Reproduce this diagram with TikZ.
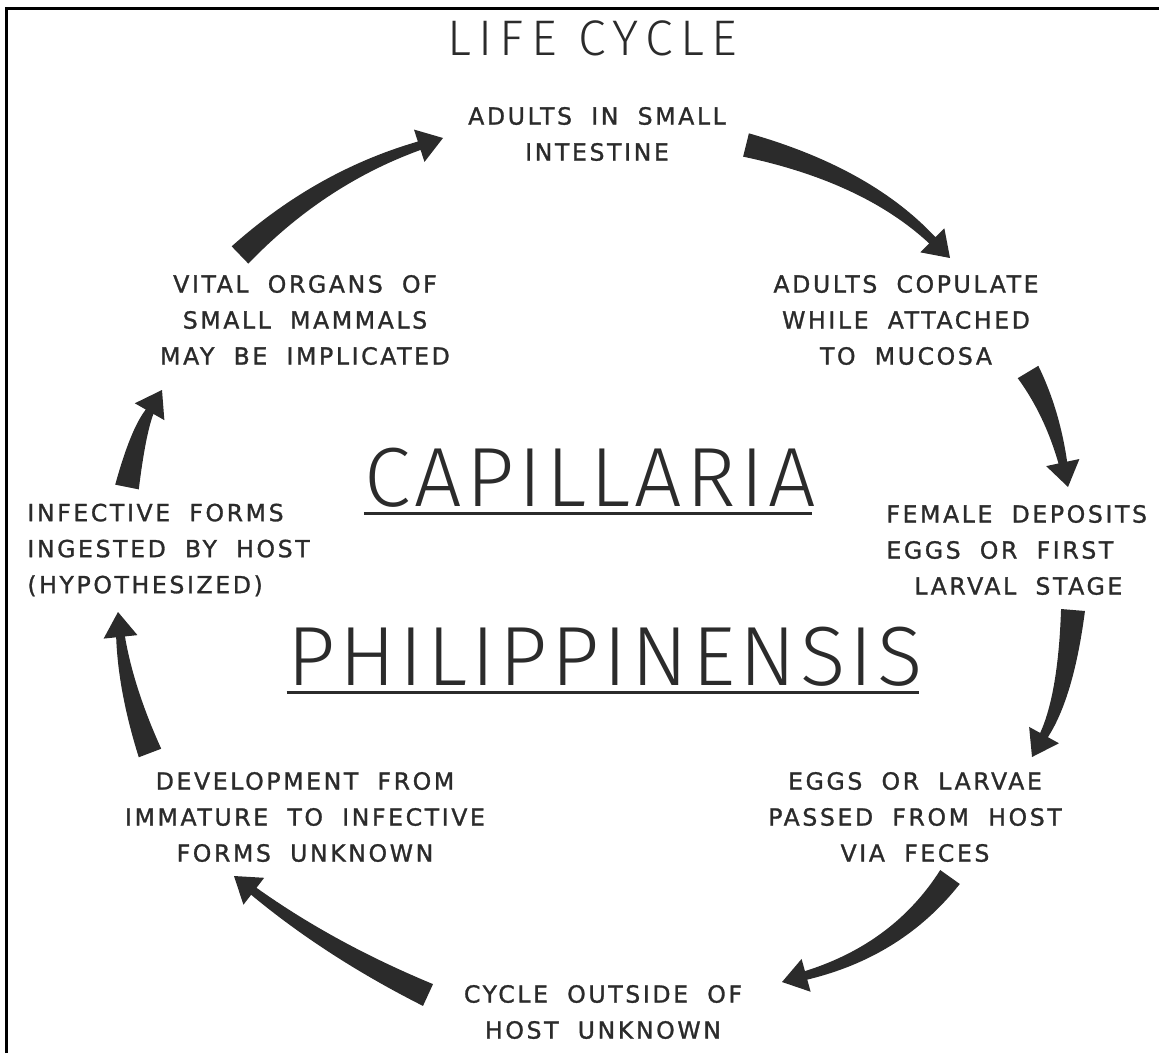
\documentclass[tikz,border=0pt]{standalone}
\usepackage{fontspec}
\setmainfont{DejaVu Sans}
\usetikzlibrary{calc}
\definecolor{ink}{HTML}{2B2B2B}
\newfontfamily\lettering{DejaVu Sans}[LetterSpace=11,WordSpace=1.9,FakeBold=1.2]
\newfontfamily\titlefont{Fira Sans Light}[LetterSpace=5]
% tapered hand-drawn arrow: tail, bend, tip
\newcommand{\fatarrow}[3]{%
  \coordinate (hb) at ($(#3)!12.5pt!(#2)$);
  \coordinate (tl) at ($(#1)!6pt!90:(#2)$);
  \coordinate (tr) at ($(#1)!6pt!-90:(#2)$);
  \coordinate (bl) at ($(hb)!2.2pt!-90:(#2)$);
  \coordinate (br) at ($(hb)!2.2pt!90:(#2)$);
  \coordinate (hl) at ($(hb)!8.5pt!-90:(#2)$);
  \coordinate (hr) at ($(hb)!8.5pt!90:(#2)$);
  \coordinate (off) at ($(#1)!4pt!90:(#3)$);
  \coordinate (cl) at ($(#2)+(off)-(#1)$);
  \coordinate (cr) at ($(#2)-(off)+(#1)$);
  \fill[ink] (tl) .. controls ($(tl)!0.667!(cl)$) and ($(bl)!0.667!(cl)$) .. (bl)
    -- (hl) -- (#3) -- (hr) -- (br)
    .. controls ($(br)!0.667!(cr)$) and ($(tr)!0.667!(cr)$) .. (tr) -- cycle;}
\begin{document}
\begin{tikzpicture}[x=0.5pt,y=-0.5pt,
  stage/.style={font=\lettering\fontsize{11.8}{18}\selectfont,align=center,inner sep=0pt,text=ink},
  species/.style={font=\titlefont\fontsize{42}{42}\selectfont,inner sep=0pt,text=ink},
  rule/.style={ink,line width=1.6pt}]
\useasboundingbox (0,0) rectangle (1159,1053);
\draw[black,line width=1.5pt] (6,1053) -- (6,9) -- (1159,9);
\node[font=\titlefont\fontsize{25}{25}\selectfont\addfontfeatures{LetterSpace=15},text=ink] (head) at (592,38) {LIFE CYCLE};
\node[species] (cap) at (590,478) {CAPILLARIA};
\node[species] (phil) at (605,657) {PHILIPPINENSIS};
\draw[rule] ([yshift=-3.5pt]cap.base west) -- ([yshift=-3.5pt,xshift=-2pt]cap.base east);
\draw[rule] ([yshift=-3.5pt]phil.base west) -- ([yshift=-3.5pt,xshift=-2pt]phil.base east);
\node[stage] (adult) at (597,134) {ADULTS IN SMALL\\INTESTINE};
\node[stage] (copul) at (906,320) {ADULTS COPULATE\\WHILE ATTACHED\\TO MUCOSA};
\node[stage,align=left,anchor=west] (eggs) at (886,550) {FEMALE DEPOSITS\\EGGS OR FIRST\\\hspace*{14pt}LARVAL STAGE};
\node[stage] (pass) at (915,817) {EGGS OR LARVAE\\PASSED FROM HOST\\VIA FECES};
\node[stage] (outs) at (603,1012) {CYCLE OUTSIDE OF\\HOST UNKNOWN};
\node[stage] (devel) at (305,817) {DEVELOPMENT FROM\\IMMATURE TO INFECTIVE\\FORMS UNKNOWN};
\node[stage,align=left,anchor=west] (ingest) at (27,550) {INFECTIVE FORMS\\INGESTED BY HOST\\(HYPOTHESIZED)};
\node[stage] (vital) at (305,320) {VITAL ORGANS OF\\SMALL MAMMALS\\MAY BE IMPLICATED};
% arrow ends
\coordinate (a1s) at (746,145); \coordinate (a1c) at (867,175); \coordinate (a1e) at (950,258);
\coordinate (a2s) at (1028,372); \coordinate (a2c) at (1052,412); \coordinate (a2e) at (1068,487);
\coordinate (a3s) at (1073,610); \coordinate (a3c) at (1066,695); \coordinate (a3e) at (1032,757);
\coordinate (a4s) at (950,877); \coordinate (a4c) at (898,950); \coordinate (a4e) at (782,982);
\coordinate (a5s) at (428,995); \coordinate (a5c) at (330,950); \coordinate (a5e) at (234,876);
\coordinate (a6s) at (150,753); \coordinate (a6c) at (126,690); \coordinate (a6e) at (118,612);
\coordinate (a7s) at (127,487); \coordinate (a7c) at (138,432); \coordinate (a7e) at (162,390);
\coordinate (a8s) at (240,255); \coordinate (a8c) at (320,178); \coordinate (a8e) at (443,138);
\foreach \i in {1,...,8}{\fatarrow{a\i s}{a\i c}{a\i e}}
\end{tikzpicture}
\end{document}
